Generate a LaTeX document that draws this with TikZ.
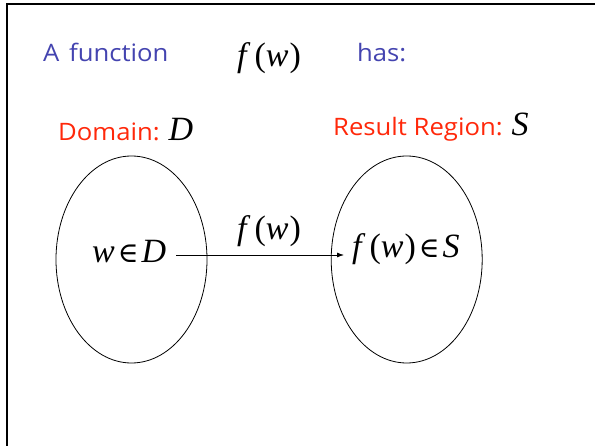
\documentclass[tikz,border=0pt]{standalone}
\usepackage{fontspec}
\setmainfont{Liberation Serif}
\newfontfamily\comic[FakeStretch=1.07]{Open Sans}
\newfontfamily\symfnt{DejaVu Serif}
\usetikzlibrary{shapes.geometric,arrows.meta}
\definecolor{fblue}{RGB}{68,68,176}
\definecolor{fred}{RGB}{255,40,10}
\newcommand{\mfw}{\textit{f}\kern4pt(\textit{w}\kern1pt)}
\newcommand{\elem}{\kern3pt{\symfnt\fontsize{28}{30}\selectfont ∈}\kern3pt}
\newcommand{\bigmath}{\fontsize{34}{38}\selectfont\rmfamily}
\begin{document}
\begin{tikzpicture}[x=1pt,y=-1pt,
  lbl/.style={font=\comic\fontsize{24}{28}\selectfont, inner sep=0},
  mth/.style={font=\bigmath, inner sep=0},
  region/.style={ellipse, draw, line width=0.8pt, minimum width=151pt, minimum height=207pt, inner sep=0},
  arr/.style={-{Latex[length=7pt,width=5pt]}, line width=0.8pt}]
\useasboundingbox (0,0) rectangle (595,446);
\fill[white] (0,0) rectangle (595,446);
\draw[line width=2pt] (7,447) -- (7,4.5) -- (596,4.5);
\node[region] (dom) at (131.5,259.5) {};
\node[region] (res) at (406.7,259.5) {};
\node[lbl, text=fblue, anchor=base west] (af) at (43,62) {A\kern3pt{} function};
\node[mth, anchor=base west] (ftop) at (237,67) {\mfw};
\node[lbl, text=fblue, anchor=base west] (has) at (357,62) {has:};
\node[lbl, text=fred, anchor=base west] (dl) at (58,141) {Domain: {\color{black}\bigmath\itshape D}};
\node[lbl, text=fred, anchor=base west] (rl) at (333,136) {Result Region: {\color{black}\bigmath\itshape S}};
\node[mth, anchor=base west] (wd) at (92,263) {\textit{w}\elem\textit{D}};
\node[mth, anchor=base west] (fs) at (352,258) {\mfw\elem\textit{S}};
\node[mth, anchor=base] (fl) at (269,240) {\mfw};
\draw[arr] ([xshift=10pt,yshift=8pt]wd.base east) -- ([xshift=-8pt,yshift=3pt]fs.base west);
\end{tikzpicture}
\end{document}
